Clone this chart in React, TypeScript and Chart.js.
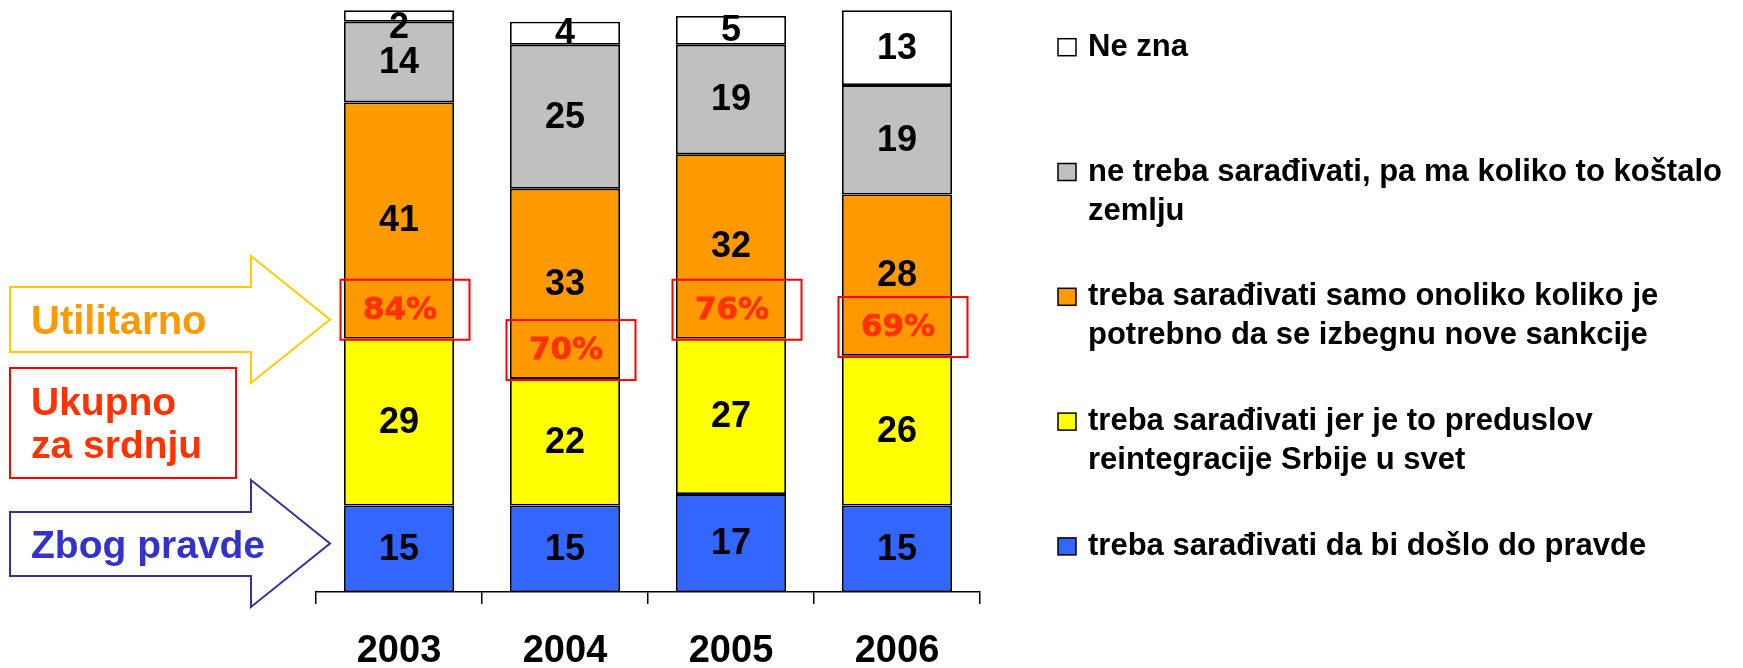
import React, { useEffect, useRef } from "react";
import { Chart, registerables } from "chart.js";

Chart.register(...registerables);

// ---- data ----
const years = ["2003", "2004", "2005", "2006"];
const pravde = [15, 15, 17, 15];
const preduslov = [29, 22, 27, 26];
const sankcije = [41, 33, 32, 28];
const neTreba = [14, 25, 19, 19];
const neZna = [2, 4, 5, 13];
const ukupnoLabels = ["84%", "70%", "76%", "69%"];

const labelPravde = "treba sarađivati da bi došlo do pravde";
const labelPreduslov = "treba sarađivati jer je to preduslov reintegracije Srbije u svet";
const labelSankcije = "treba sarađivati samo onoliko koliko je potrebno da se izbegnu nove sankcije";
const labelNeTreba = "ne treba sarađivati, pa ma koliko to koštalo zemlju";
const labelNeZna = "Ne zna";

const arrowTexts = ["Utilitarno", "Ukupno", "za srdnju", "Zbog pravde"];

const SANS = "'Liberation Sans', Arial, sans-serif";

function wrap(ctx: CanvasRenderingContext2D, text: string, maxW: number): string[] {
  const words = text.split(" ");
  const lines: string[] = [];
  let cur = "";
  for (const w of words) {
    const t = cur ? cur + " " + w : w;
    if (ctx.measureText(t).width > maxW && cur) {
      lines.push(cur);
      cur = w;
    } else cur = t;
  }
  if (cur) lines.push(cur);
  return lines;
}

function arrow(
  ctx: CanvasRenderingContext2D,
  x0: number, yTop: number, yBot: number,
  headX: number, headTop: number, headBot: number, tipX: number, color: string
) {
  ctx.save();
  ctx.beginPath();
  ctx.moveTo(x0, yTop);
  ctx.lineTo(headX, yTop);
  ctx.lineTo(headX, headTop);
  ctx.lineTo(tipX, (headTop + headBot) / 2);
  ctx.lineTo(headX, headBot);
  ctx.lineTo(headX, yBot);
  ctx.lineTo(x0, yBot);
  ctx.closePath();
  ctx.fillStyle = "#ffffff";
  ctx.fill();
  ctx.strokeStyle = color;
  ctx.lineWidth = 2;
  ctx.stroke();
  ctx.restore();
}

const overlay = {
  id: "overlay",
  afterDatasetsDraw(chart: any) {
    const ctx: CanvasRenderingContext2D = chart.ctx;
    ctx.save();
    // value labels
    ctx.font = `bold 36px ${SANS}`;
    ctx.fillStyle = "#000";
    ctx.textAlign = "center";
    ctx.textBaseline = "middle";
    chart.data.datasets.forEach((ds: any, di: number) => {
      const meta = chart.getDatasetMeta(di);
      meta.data.forEach((el: any, i: number) => {
        const p = el.getProps(["x", "y", "base"], true);
        const top = Math.min(p.y, p.base);
        const bot = Math.max(p.y, p.base);
        let cy = (top + bot) / 2;
        if (bot - top < 15) cy = top + 17;
        ctx.fillText(String(ds.data[i]), p.x, cy + 1);
      });
    });
    // totals boxes
    const xs = chart.scales.x;
    const ys = chart.scales.y;
    years.forEach((_, i) => {
      const cx = xs.getPixelForValue(i);
      const cy = ys.getPixelForValue(pravde[i] + preduslov[i] + 5);
      const w = 129, h = 60;
      ctx.strokeStyle = "#ff0000";
      ctx.lineWidth = 2;
      ctx.strokeRect(cx + 6 - w / 2, cy - h / 2, w, h);
      ctx.font = "bold 31px 'DejaVu Sans', Verdana, sans-serif";
      ctx.fillStyle = "#ff3300";
      ctx.strokeStyle = "#ff3300";
      ctx.lineWidth = 0.8;
      ctx.fillText(ukupnoLabels[i], cx + 1, cy + 1);
      ctx.strokeText(ukupnoLabels[i], cx + 1, cy + 1);
    });
    ctx.restore();
  },
  afterDraw(chart: any) {
    const ctx: CanvasRenderingContext2D = chart.ctx;
    ctx.save();
    // left annotations
    arrow(ctx, 10, 287, 352, 251, 256, 383, 330, "#ffcc00");
    arrow(ctx, 10, 512, 576, 251, 480, 607, 330, "#333399");
    ctx.fillStyle = "#ffffff";
    ctx.fillRect(10, 368, 226, 110);
    ctx.strokeStyle = "#ff0000";
    ctx.lineWidth = 2;
    ctx.strokeRect(10, 368, 226, 110);
    ctx.textAlign = "left";
    ctx.textBaseline = "alphabetic";
    ctx.font = `bold 40px ${SANS}`;
    ctx.fillStyle = "#ff9900";
    ctx.fillText(arrowTexts[0], 31, 334);
    ctx.font = `bold 39px ${SANS}`;
    ctx.fillStyle = "#ff3300";
    ctx.fillText(arrowTexts[1], 31, 415);
    ctx.fillText(arrowTexts[2], 31, 458);
    ctx.fillStyle = "#3333cc";
    ctx.fillText(arrowTexts[3], 31, 558);

    // legend
    ctx.font = `bold 31px ${SANS}`;
    const dss = chart.data.datasets.slice().reverse();
    dss.forEach((ds: any, k: number) => {
      const base = 55.7 + k * 124.8;
      ctx.fillStyle = ds.backgroundColor;
      ctx.fillRect(1058, base - 17, 18, 17);
      ctx.strokeStyle = "#000";
      ctx.lineWidth = 1.5;
      ctx.strokeRect(1058, base - 17, 18, 17);
      ctx.fillStyle = "#000";
      const lines = wrap(ctx, ds.label, 650);
      lines.forEach((ln, j) => ctx.fillText(ln, 1088, base + j * 39));
    });
    ctx.restore();
  },
};

export default function App() {
  const ref = useRef<HTMLCanvasElement>(null);
  useEffect(() => {
    if (!ref.current) return;
    const mk = (label: string, data: number[], color: string) => ({
      label,
      data,
      backgroundColor: color,
      borderColor: "#000",
      borderWidth: 1.8,
      borderSkipped: false,
      barPercentage: 0.663,
      categoryPercentage: 1,
      clip: false as any,
    });
    const chart = new Chart(ref.current, {
      type: "bar",
      data: {
        labels: years,
        datasets: [
          mk(labelPravde, pravde, "#3366ff"),
          mk(labelPreduslov, preduslov, "#ffff00"),
          mk(labelSankcije, sankcije, "#ff9900"),
          mk(labelNeTreba, neTreba, "#c0c0c0"),
          mk(labelNeZna, neZna, "#ffffff"),
        ],
      },
      options: {
        animation: false,
        responsive: false,
        devicePixelRatio: 1,
        layout: { padding: { left: 316, right: 763, top: 16, bottom: 0 } },
        plugins: { legend: { display: false }, tooltip: { enabled: false } },
        scales: {
          x: {
            stacked: true,
            offset: true,
            afterFit: (s: any) => {
              s.height = 76;
            },
            grid: {
              display: true,
              drawOnChartArea: false,
              drawTicks: true,
              tickLength: 12,
              color: "#000",
              lineWidth: 1.5,
              offset: true,
            },
            border: { display: true, color: "#000", width: 1.5 },
            ticks: {
              color: "#000",
              padding: 25,
              font: { family: SANS, size: 38, weight: "bold" },
            },
          },
          y: { stacked: true, display: false, min: 0, max: 100 },
        },
      },
      plugins: [overlay],
    });
    return () => chart.destroy();
  }, []);
  return (
    <div style={{ position: "absolute", left: 0, top: 0 }}>
      <canvas ref={ref} width={1743} height={668} style={{ display: "block" }} />
    </div>
  );
}
